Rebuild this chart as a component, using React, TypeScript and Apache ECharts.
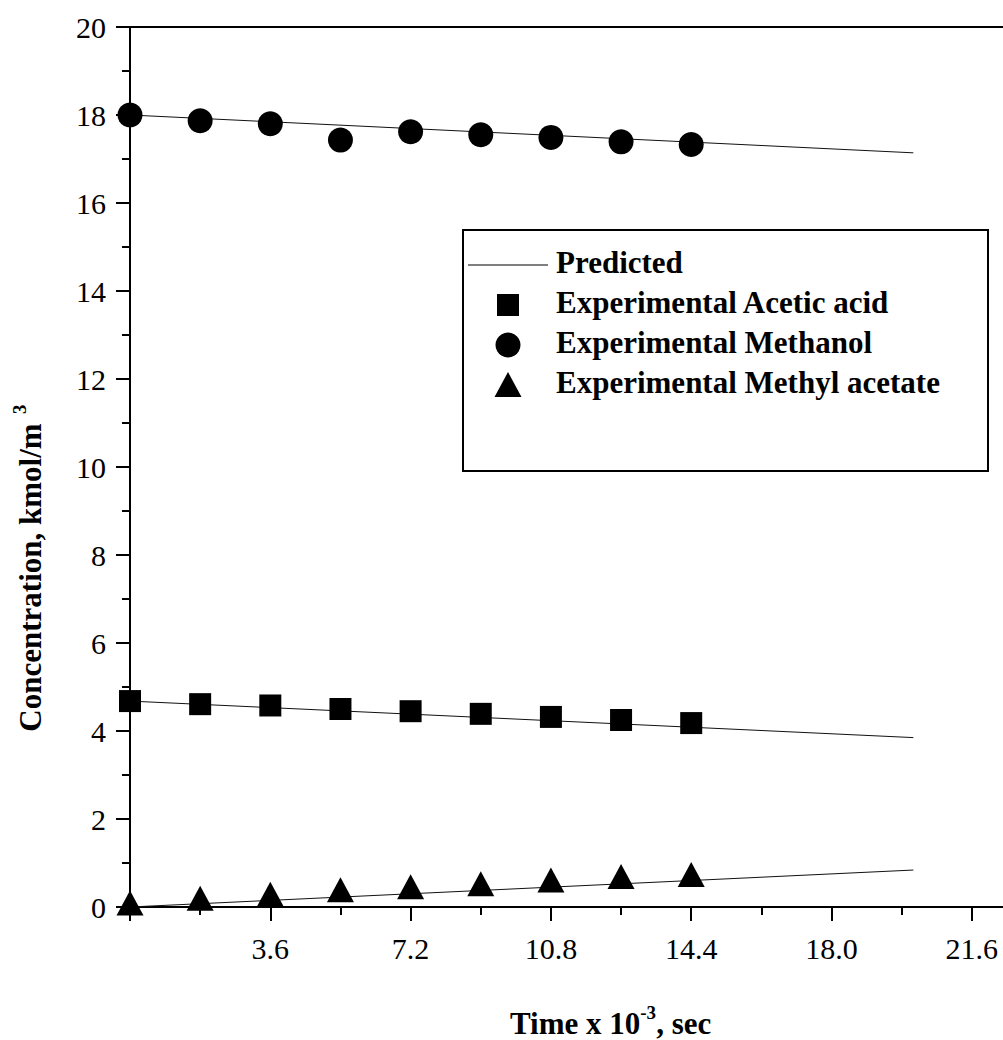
import React, { useEffect, useRef } from 'react';
import * as echarts from 'echarts';

const timePoints = [0, 1.8, 3.6, 5.4, 7.2, 9.0, 10.8, 12.6, 14.4];
const aceticAcid = [4.68, 4.61, 4.58, 4.5, 4.45, 4.39, 4.32, 4.25, 4.18];
const methanol = [18.0, 17.87, 17.8, 17.43, 17.62, 17.55, 17.49, 17.39, 17.33];
const methylAcetate = [0, 0.11, 0.2, 0.3, 0.37, 0.44, 0.52, 0.6, 0.65];

const predictedTime = [0, 20.1];
const predictedAcetic = [4.68, 3.85];
const predictedMethanol = [18.0, 17.14];
const predictedMethylAcetate = [0, 0.84];

const xTickLabels = ['3.6', '7.2', '10.8', '14.4', '18.0', '21.6'];
const xMajorTicks = [0, 3.6, 7.2, 10.8, 14.4, 18.0, 21.6];
const xMinorTicks = [1.8, 5.4, 9.0, 12.6, 16.2, 19.8];
const yTickLabels = ['0', '2', '4', '6', '8', '10', '12', '14', '16', '18', '20'];

const legendNames = ['Predicted', 'Experimental Acetic acid', 'Experimental Methanol', 'Experimental Methyl acetate'];

const FONT = '"Liberation Serif", "Times New Roman", serif';

const pairs = (xs: number[], ys: number[]) => xs.map((x, i) => [x, ys[i]]);

export default function App() {
  const ref = useRef<HTMLDivElement>(null);
  useEffect(() => {
    if (!ref.current) return;
    const chart = echarts.init(ref.current, undefined, { renderer: 'svg' });
    const axisLine = { show: true, lineStyle: { color: '#000', width: 2 } };
    const lineStyle = { color: '#111', width: 1 };
    const legendX = 463;
    const legendY = 230;
    const rowY = [265, 305, 345, 385];
    const iconX = 508;
    const textX = 556;
    const legendText = (i: number) => ({
      type: 'text',
      left: textX,
      top: rowY[i] - 18,
      style: { text: legendNames[i], font: `bold 31px ${FONT}`, fill: '#000' },
    });
    const X_MAX = 22.4;
    chart.setOption({
      animation: false,
      backgroundColor: '#fff',
      grid: { left: 130, top: 27, right: 0, height: 880, containLabel: false },
      xAxis: [
        {
          type: 'value',
          position: 'bottom',
          min: 0,
          max: X_MAX,
          axisLine,
          splitLine: { show: false },
          axisTick: {
            show: true,
            inside: false,
            length: 14,
            customValues: xMajorTicks,
            lineStyle: { color: '#000', width: 2 },
          },
          axisLabel: {
            margin: 26,
            color: '#000',
            fontSize: 30,
            fontFamily: FONT,
            customValues: xTickLabels.map((s) => parseFloat(s)),
            formatter: (v: number) => v.toFixed(1),
          },
        },
        {
          type: 'value',
          position: 'bottom',
          min: 0,
          max: X_MAX,
          axisLine: { show: false },
          splitLine: { show: false },
          axisTick: {
            show: true,
            inside: false,
            length: 8,
            customValues: xMinorTicks,
            lineStyle: { color: '#000', width: 2 },
          },
          axisLabel: { show: false },
        },
        {
          type: 'value',
          position: 'top',
          min: 0,
          max: X_MAX,
          axisLine,
          axisTick: { show: false },
          axisLabel: { show: false },
          splitLine: { show: false },
        },
      ],
      yAxis: {
        type: 'value',
        min: 0,
        max: 20,
        interval: 2,
        axisLine,
        splitLine: { show: false },
        axisTick: { show: true, inside: false, length: 14, lineStyle: { color: '#000', width: 2 } },
        minorTick: { show: true, splitNumber: 2, length: 8, lineStyle: { color: '#000', width: 2 } },
        axisLabel: {
          margin: 24,
          color: '#000',
          fontSize: 30,
          fontFamily: FONT,
          formatter: (v: number) => {
            const s = String(Math.round(v));
            return yTickLabels.includes(s) ? s : '';
          },
        },
      },
      series: [
        { name: 'Predicted', type: 'line', data: pairs(predictedTime, predictedMethanol), showSymbol: false, lineStyle, z: 1 },
        { name: 'Predicted', type: 'line', data: pairs(predictedTime, predictedAcetic), showSymbol: false, lineStyle, z: 1 },
        { name: 'Predicted', type: 'line', data: pairs(predictedTime, predictedMethylAcetate), showSymbol: false, lineStyle, z: 1 },
        {
          name: 'Experimental Acetic acid',
          type: 'scatter',
          symbol: 'rect',
          symbolSize: 22,
          itemStyle: { color: '#000', opacity: 1 },
          data: pairs(timePoints, aceticAcid),
          z: 3,
        },
        {
          name: 'Experimental Methanol',
          type: 'scatter',
          symbol: 'circle',
          symbolSize: 25,
          itemStyle: { color: '#000', opacity: 1 },
          data: pairs(timePoints, methanol),
          z: 3,
        },
        {
          name: 'Experimental Methyl acetate',
          type: 'scatter',
          symbol: 'triangle',
          symbolSize: [27, 25],
          symbolOffset: [0, -4],
          itemStyle: { color: '#000', opacity: 1 },
          data: pairs(timePoints, methylAcetate),
          z: 3,
        },
      ],
      graphic: [
        {
          type: 'rect',
          shape: { x: legendX, y: legendY, width: 988 - legendX, height: 471 - legendY },
          style: { fill: '#fff', stroke: '#000', lineWidth: 2 },
          z: 10,
        },
        {
          type: 'line',
          shape: { x1: 468, y1: rowY[0], x2: 548, y2: rowY[0] },
          style: { stroke: '#555', lineWidth: 1.5 },
          z: 11,
        },
        { type: 'rect', shape: { x: iconX - 11, y: rowY[1] - 11, width: 22, height: 22 }, style: { fill: '#000' }, z: 11 },
        { type: 'circle', shape: { cx: iconX, cy: rowY[2], r: 12.5 }, style: { fill: '#000' }, z: 11 },
        {
          type: 'polygon',
          shape: { points: [[iconX, rowY[3] - 13], [iconX + 13.5, rowY[3] + 12], [iconX - 13.5, rowY[3] + 12]] },
          style: { fill: '#000' },
          z: 11,
        },
        { ...legendText(0), z: 11 },
        { ...legendText(1), z: 11 },
        { ...legendText(2), z: 11 },
        { ...legendText(3), z: 11 },
        {
          type: 'text',
          left: 510,
          top: 1003,
          style: {
            text: '{a|Time x 10}{b|-3}{a|, sec}',
            rich: {
              a: { font: `bold 31px ${FONT}`, fill: '#000', verticalAlign: 'bottom', lineHeight: 36 },
              b: { font: `bold 19px ${FONT}`, fill: '#000', verticalAlign: 'top', lineHeight: 36 },
            },
          },
        },
        {
          type: 'text',
          x: 28,
          y: 568,
          rotation: Math.PI / 2,
          style: {
            text: '{a|Concentration, kmol/m}{b|  3}',
            align: 'center',
            verticalAlign: 'middle',
            rich: {
              a: { font: `bold 31px ${FONT}`, fill: '#000', verticalAlign: 'bottom', lineHeight: 36 },
              b: { font: `bold 19px ${FONT}`, fill: '#000', verticalAlign: 'top', lineHeight: 36 },
            },
          },
        },
      ],
    });
    return () => chart.dispose();
  }, []);
  return <div ref={ref} style={{ position: 'absolute', left: 0, top: 0, width: 1003, height: 1040, overflow: 'hidden' }} />;
}
